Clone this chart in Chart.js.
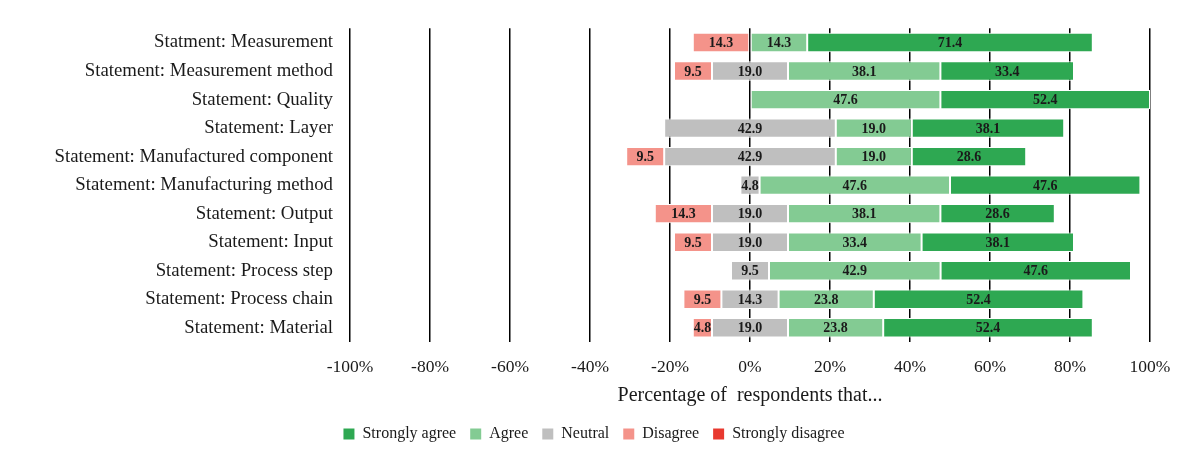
<!DOCTYPE html>
<html>
<head>
<meta charset="utf-8">
<script src="https://cdn.jsdelivr.net/npm/chart.js@4.4.1/dist/chart.umd.min.js"></script>
<style>
  html, body { margin: 0; padding: 0; background: #fff; }
  #wrap { width: 1200px; height: 462px; }
</style>
</head>
<body>
<div id="wrap"><canvas id="likert-chart"></canvas></div>
<script>
// Survey statements, top to bottom
const statements = [
  'Statment: Measurement',
  'Statement: Measurement method',
  'Statement: Quality',
  'Statement: Layer',
  'Statement: Manufactured component',
  'Statement: Manufacturing method',
  'Statement: Output',
  'Statement: Input',
  'Statement: Process step',
  'Statement: Process chain',
  'Statement: Material'
];

// Share of respondents (%) per answer
const stronglyAgree    = [71.4, 33.4, 52.4, 38.1, 28.6, 47.6, 28.6, 38.1, 47.6, 52.4, 52.4];
const agree            = [14.3, 38.1, 47.6, 19.0, 19.0, 47.6, 38.1, 33.4, 42.9, 23.8, 23.8];
const neutral          = [0, 19.0, 0, 42.9, 42.9, 4.8, 19.0, 19.0, 9.5, 14.3, 19.0];
const disagree         = [14.3, 9.5, 0, 0, 9.5, 0, 14.3, 9.5, 0, 9.5, 4.8];
const stronglyDisagree = [0, 0, 0, 0, 0, 0, 0, 0, 0, 0, 0];

// Axis range
const xMin = -100;
const xMax = 100;
const xStep = 20;

const FONT = "'Liberation Serif', 'DejaVu Serif', serif";

// Diverging layout: neutral is centred on zero, disagree goes left, agree goes right
function ranges(values, startFn) {
  return values.map((v, i) => {
    if (!v) return null;
    const start = startFn(i);
    return [start, start + v];
  });
}

const neutralRanges = ranges(neutral, i => -neutral[i] / 2);
const disagreeRanges = ranges(disagree, i => -neutral[i] / 2 - disagree[i]);
const strongDisRanges = ranges(stronglyDisagree, i => -neutral[i] / 2 - disagree[i] - stronglyDisagree[i]);
const agreeRanges = ranges(agree, i => neutral[i] / 2);
const strongAgreeRanges = ranges(stronglyAgree, i => neutral[i] / 2 + agree[i]);

// Value labels inside each segment
const segmentLabels = {
  id: 'segmentLabels',
  afterDatasetsDraw(chart) {
    const ctx = chart.ctx;
    ctx.save();
    ctx.font = "bold 14px " + FONT;
    ctx.fillStyle = '#1a1a1a';
    ctx.textAlign = 'center';
    ctx.textBaseline = 'middle';
    chart.data.datasets.forEach((ds, di) => {
      const meta = chart.getDatasetMeta(di);
      meta.data.forEach((bar, i) => {
        const raw = ds.data[i];
        if (!raw) return;
        const value = raw[1] - raw[0];
        const cx = (bar.x + bar.base) / 2;
        ctx.fillText(value.toFixed(1), cx, bar.y + 1);
      });
    });
    ctx.restore();
  }
};

function barSet(label, data, color) {
  return {
    label: label,
    data: data,
    backgroundColor: color,
    borderColor: '#ffffff',
    borderWidth: 1,
    borderSkipped: false,
    barPercentage: 0.68,
    categoryPercentage: 1.0,
    grouped: false
  };
}

const ctx = document.getElementById('likert-chart').getContext('2d');
const likertChart = new Chart(ctx, {
  type: 'bar',
  data: {
    labels: statements,
    datasets: [
      barSet('Strongly agree', strongAgreeRanges, '#2ea852'),
      barSet('Agree', agreeRanges, '#83cb93'),
      barSet('Neutral', neutralRanges, '#bfbfbf'),
      barSet('Disagree', disagreeRanges, '#f4938a'),
      barSet('Strongly disagree', strongDisRanges, '#e8392f')
    ]
  },
  options: {
    indexAxis: 'y',
    responsive: true,
    maintainAspectRatio: false,
    animation: false,
    layout: {
      padding: { top: 27, right: 50, bottom: 10, left: 38 }
    },
    scales: {
      x: {
        min: xMin,
        max: xMax,
        border: { display: false },
        grid: {
          color: '#000000',
          lineWidth: 1.5,
          drawTicks: false
        },
        ticks: {
          stepSize: xStep,
          padding: 15,
          color: '#1a1a1a',
          font: { family: FONT, size: 17.5 },
          callback: v => v + '%'
        },
        title: {
          display: true,
          text: 'Percentage of  respondents that...',
          color: '#1a1a1a',
          font: { family: FONT, size: 20 },
          padding: { top: -9, bottom: 4 }
        }
      },
      y: {
        border: { display: false },
        grid: { display: false, drawTicks: false },
        ticks: {
          padding: 17,
          color: '#1a1a1a',
          font: { family: FONT, size: 18.8 }
        },
        afterFit(scale) {
          scale.width = 312;
        }
      }
    },
    plugins: {
      legend: {
        position: 'bottom',
        labels: {
          boxWidth: 11,
          boxHeight: 11,
          padding: 14,
          color: '#1a1a1a',
          font: { family: FONT, size: 16 },
          generateLabels(chart) {
            const items = Chart.defaults.plugins.legend.labels.generateLabels(chart);
            items.forEach(item => { item.lineWidth = 0; });
            return items;
          }
        }
      },
      tooltip: { enabled: false }
    }
  },
  plugins: [segmentLabels]
});
</script>
</body>
</html>
